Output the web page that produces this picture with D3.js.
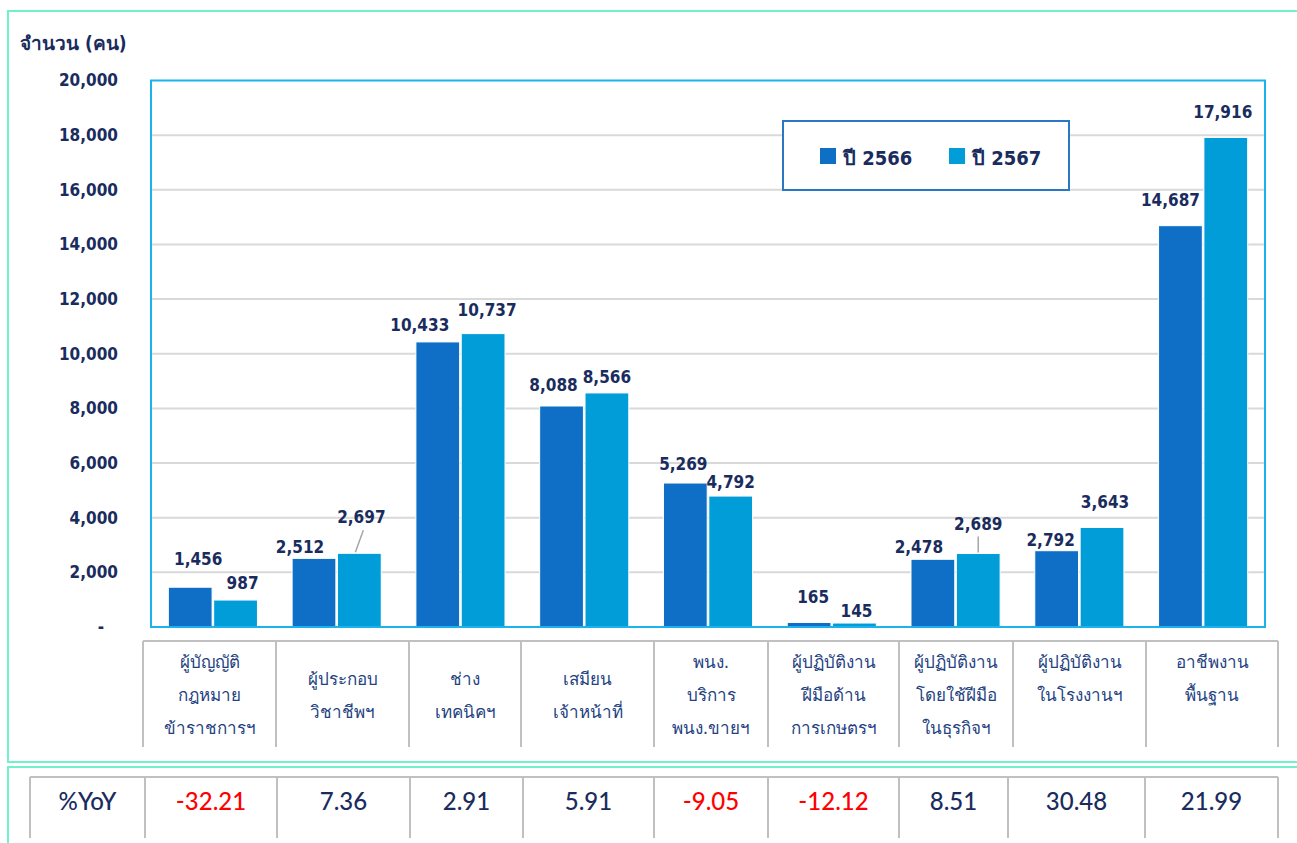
<!DOCTYPE html>
<html>
<head>
<meta charset="utf-8">
<script src="https://cdn.jsdelivr.net/npm/d3@7"></script>
<style>
  body { margin: 0; background: #ffffff; }
  svg { display: block; }
</style>
</head>
<body>
<svg id="chart" width="1297" height="843"></svg>
<script>
// ---- data ----
const categories = [
  ["ผู้บัญญัติ", "กฎหมาย", "ข้าราชการฯ"],
  ["ผู้ประกอบ", "วิชาชีพฯ"],
  ["ช่าง", "เทคนิคฯ"],
  ["เสมียน", "เจ้าหน้าที่"],
  ["พนง.", "บริการ", "พนง.ขายฯ"],
  ["ผู้ปฏิบัติงาน", "ฝีมือด้าน", "การเกษตรฯ"],
  ["ผู้ปฏิบัติงาน", "โดยใช้ฝีมือ", "ในธุรกิจฯ"],
  ["ผู้ปฏิบัติงาน", "ในโรงงานฯ"],
  ["อาชีพงาน", "พื้นฐาน"]
];
const seriesNames = ["ปี 2566", "ปี 2567"];
const values2566 = [1456, 2512, 10433, 8088, 5269, 165, 2478, 2792, 14687];
const values2567 = [987, 2697, 10737, 8566, 4792, 145, 2689, 3643, 17916];
const yoy = [-32.21, 7.36, 2.91, 5.91, -9.05, -12.12, 8.51, 30.48, 21.99];
const yTicks = [0, 2000, 4000, 6000, 8000, 10000, 12000, 14000, 16000, 18000, 20000];
const yTitle = "จำนวน (คน)";
const yoyTitle = "%YoY";

// ---- layout ----
const colors = ["#0f6fc6", "#009dd9"];
const navy = "#1a2c5e";
const catColor = "#23427f";
const gridColor = "#d9d9d9";
const tableLine = "#c0c0c0";
const numFont = "'DejaVu Sans Condensed', 'DejaVu Sans', sans-serif";
const plot = { x: 151, y: 80.5, w: 1114, h: 546.5 };
// column edges of the two tables under the chart (they were pasted, not aligned to bands)
const catEdges = [143, 276, 409, 521, 654, 768, 899, 1013, 1146, 1278];
const yoyEdges = [30, 145, 277, 410, 523, 654, 768, 899, 1008, 1145, 1278];
const catRowStart = [0, 0.5, 0.5, 0.5, 0, 0, 0, 0, 0];
// hand-placed data labels in the original, offsets from the default spot
const nudge2566 = [[8, -16], [-14, 1], [-18, -5], [-8, -9], [-2, -7], [4, -13], [-14, 0], [-6, 1], [-10, -14]];
const nudge2567 = [[7, -5], [2, -24], [4, -12], [0, -4], [0, -2], [2, 0], [0, -18], [3, -13], [-3, -13]];
const leaders2567 = [false, true, false, false, false, false, true, false, false];

const svg = d3.select("#chart");
const fmt = d3.format(",");

// outer frames
svg.append("rect")
  .attr("x", 8).attr("y", 11).attr("width", 1300).attr("height", 751)
  .attr("fill", "none").attr("stroke", "#72f0c9").attr("stroke-width", 2);
svg.append("rect")
  .attr("x", 8).attr("y", 767).attr("width", 1300).attr("height", 100)
  .attr("fill", "none").attr("stroke", "#72f0c9").attr("stroke-width", 2);

const x0 = d3.scaleBand()
  .domain(d3.range(categories.length))
  .range([plot.x, plot.x + plot.w])
  .paddingInner(0.28)
  .paddingOuter(0.14);

const x1 = d3.scaleBand()
  .domain(seriesNames)
  .range([0, x0.bandwidth()])
  .paddingInner(0.035);

const y = d3.scaleLinear()
  .domain([0, 20000])
  .range([plot.y + plot.h, plot.y]);

// gridlines
svg.append("g")
  .selectAll("line")
  .data(yTicks.filter(d => d > 0 && d < 20000))
  .enter().append("line")
  .attr("x1", plot.x).attr("x2", plot.x + plot.w)
  .attr("y1", d => y(d)).attr("y2", d => y(d))
  .attr("stroke", gridColor).attr("stroke-width", 2);

// y axis labels
const yAxis = d3.axisLeft(y)
  .tickValues(yTicks)
  .tickSize(0)
  .tickPadding(33)
  .tickFormat(d => d === 0 ? "-" : fmt(d));

const gy = svg.append("g")
  .attr("transform", "translate(" + plot.x + ",0)")
  .call(yAxis);
gy.select(".domain").remove();
gy.selectAll("text")
  .attr("fill", navy)
  .attr("font-family", numFont)
  .attr("font-weight", "bold")
  .attr("font-size", 17)
  .attr("dx", d => d === 0 ? -14 : 0);

svg.append("text")
  .attr("x", 20).attr("y", 50)
  .attr("fill", navy)
  .attr("font-family", numFont)
  .attr("font-weight", "bold")
  .attr("font-size", 19)
  .text(yTitle);

// bars
const series = [
  { name: seriesNames[0], values: values2566, nudge: nudge2566, leaders: null },
  { name: seriesNames[1], values: values2567, nudge: nudge2567, leaders: leaders2567 }
];

series.forEach((s, si) => {
  const g = svg.append("g");
  g.selectAll("rect")
    .data(s.values)
    .enter().append("rect")
    .attr("x", (d, i) => x0(i) + x1(s.name))
    .attr("y", d => y(d))
    .attr("width", x1.bandwidth())
    .attr("height", d => y(0) - y(d))
    .attr("fill", colors[si])
    .attr("stroke", "#ffffff")
    .attr("stroke-width", 1);

  if (s.leaders) {
    g.selectAll("line.leader")
      .data(s.values.map((d, i) => ({ d, i })).filter(o => s.leaders[o.i]))
      .enter().append("line")
      .attr("class", "leader")
      .attr("x1", o => x0(o.i) + x1(s.name) + x1.bandwidth() / 2 + s.nudge[o.i][0] + (o.i === 1 ? 2 : 0))
      .attr("y1", o => y(o.d) - 6 + s.nudge[o.i][1] + 7)
      .attr("x2", o => x0(o.i) + x1(s.name) + x1.bandwidth() / 2 + (o.i === 1 ? -4 : 0))
      .attr("y2", o => y(o.d) - 1)
      .attr("stroke", "#a6a6a6")
      .attr("stroke-width", 1.5);
  }

  g.selectAll("text")
    .data(s.values)
    .enter().append("text")
    .attr("x", (d, i) => x0(i) + x1(s.name) + x1.bandwidth() / 2 + s.nudge[i][0])
    .attr("y", (d, i) => y(d) - 6 + s.nudge[i][1])
    .attr("text-anchor", "middle")
    .attr("fill", navy)
    .attr("font-family", numFont)
    .attr("font-weight", "bold")
    .attr("font-size", 17)
    .text(d => fmt(d));
});

// plot border
svg.append("rect")
  .attr("x", plot.x).attr("y", plot.y)
  .attr("width", plot.w).attr("height", plot.h)
  .attr("fill", "none")
  .attr("stroke", "#1cb2ee")
  .attr("stroke-width", 2);

// legend
const legend = svg.append("g");
legend.append("rect")
  .attr("x", 783).attr("y", 121).attr("width", 286).attr("height", 69)
  .attr("fill", "#ffffff").attr("stroke", "#2a78c2").attr("stroke-width", 2);
const legendX = [820, 949];
seriesNames.forEach((name, i) => {
  legend.append("rect")
    .attr("x", legendX[i]).attr("y", 148)
    .attr("width", 16).attr("height", 16)
    .attr("fill", colors[i]);
  legend.append("text")
    .attr("x", legendX[i] + 23).attr("y", 165)
    .attr("fill", navy)
    .attr("font-family", numFont)
    .attr("font-weight", "bold")
    .attr("font-size", 20)
    .text(name);
});

// category table
const catTable = svg.append("g");
catTable.append("line")
  .attr("x1", catEdges[0]).attr("x2", catEdges[catEdges.length - 1])
  .attr("y1", 641).attr("y2", 641)
  .attr("stroke", tableLine).attr("stroke-width", 2);
catTable.selectAll("line.v")
  .data(catEdges)
  .enter().append("line")
  .attr("class", "v")
  .attr("x1", d => d).attr("x2", d => d)
  .attr("y1", 641).attr("y2", 747)
  .attr("stroke", tableLine).attr("stroke-width", 2);

categories.forEach((lines, i) => {
  const cx = (catEdges[i] + catEdges[i + 1]) / 2;
  catTable.append("g").selectAll("text")
    .data(lines)
    .enter().append("text")
    .attr("x", cx)
    .attr("y", (d, j) => 668 + (j + catRowStart[i]) * 33)
    .attr("text-anchor", "middle")
    .attr("fill", catColor)
    .attr("font-family", "'DejaVu Sans', 'Noto Sans', sans-serif")
    .attr("font-size", 17)
    .text(d => d);
});

// %YoY table
const yoyTable = svg.append("g");
yoyTable.append("line")
  .attr("x1", yoyEdges[0]).attr("x2", yoyEdges[yoyEdges.length - 1])
  .attr("y1", 777).attr("y2", 777)
  .attr("stroke", tableLine).attr("stroke-width", 2);
yoyTable.selectAll("line.v")
  .data(yoyEdges)
  .enter().append("line")
  .attr("class", "v")
  .attr("x1", d => d).attr("x2", d => d)
  .attr("y1", 777).attr("y2", 838)
  .attr("stroke", tableLine).attr("stroke-width", 2);

const yoyCells = [yoyTitle].concat(yoy.map(d => d.toFixed(2)));
yoyTable.selectAll("text")
  .data(yoyCells)
  .enter().append("text")
  .attr("x", (d, i) => (yoyEdges[i] + yoyEdges[i + 1]) / 2)
  .attr("y", 810)
  .attr("text-anchor", "middle")
  .attr("fill", (d, i) => i > 0 && yoy[i - 1] < 0 ? "#ff0000" : navy)
  .attr("font-family", "Lato, sans-serif")
  .attr("font-weight", 500)
  .attr("font-size", 24)
  .text(d => d);
</script>
</body>
</html>
